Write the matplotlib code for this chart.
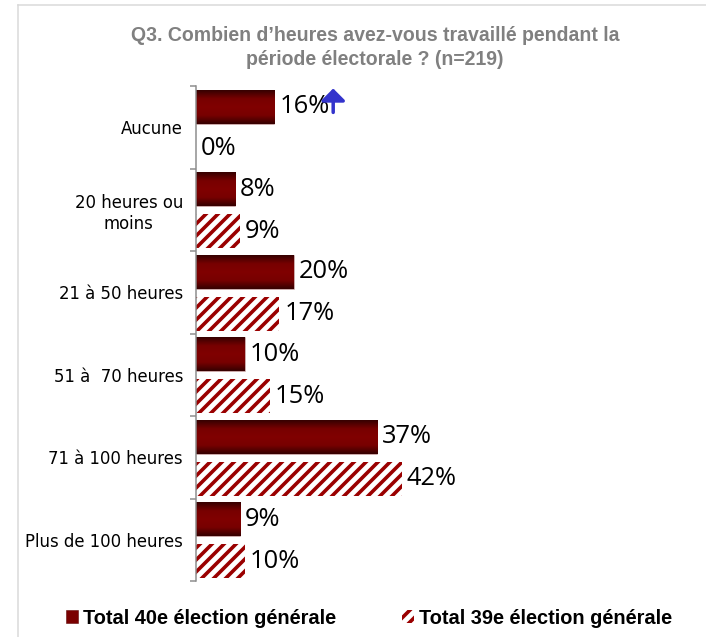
import numpy as np
import matplotlib
matplotlib.use('Agg')
import matplotlib.pyplot as plt
from matplotlib.colors import LinearSegmentedColormap
from matplotlib.patches import Patch
from matplotlib.lines import Line2D

# data
categories = ['Aucune', '20 heures ou\nmoins', '21 à 50 heures', '51 à  70 heures',
              '71 à 100 heures', 'Plus de 100 heures']
total_40e = [16, 8, 20, 10, 37, 9]
total_39e = [0, 9, 17, 15, 42, 10]
series_names = ['Total 40e élection générale', 'Total 39e élection générale']
title = "Q3. Combien d\u2019heures avez-vous travaillé pendant la\npériode électorale ? (n=219)"

W, H = 706, 637
DPI = 72
plt.rcParams['hatch.linewidth'] = 3.6
plt.rcParams['hatch.color'] = '#9a0000'

fig = plt.figure(figsize=(W / DPI, H / DPI), dpi=DPI)
ax = fig.add_axes([196 / W, (H - 581) / H, 490 / W, (581 - 86) / H])

n = len(categories)
idx = np.arange(n)
bh = 0.41
y40 = idx + 0.25
y39 = idx + 0.76

bars40 = ax.barh(y40, total_40e, height=bh, color='#7a0000', edgecolor='#d8c8c8', lw=0.6, zorder=2)
bars39 = ax.barh(y39, total_39e, height=bh, color='white', edgecolor='#9a0000', lw=0,
                 hatch='//', zorder=2)

# vertical gradient on the solid bars
grad = LinearSegmentedColormap.from_list('g', ['#360000', '#780000', '#800000', '#780000', '#360000'])
gvals = np.linspace(0, 1, 64).reshape(-1, 1)
for b in bars40:
    x0, y0, w, h = b.get_x(), b.get_y(), b.get_width(), b.get_height()
    ax.imshow(gvals, cmap=grad, aspect='auto', extent=[x0, x0 + w, y0 + h, y0],
              interpolation='bilinear', zorder=2.5)

ax.set_xlim(0, 100)
ax.set_ylim(n, 0)

# value labels
for bars, vals in [(bars40, total_40e), (bars39, total_39e)]:
    for b, v in zip(bars, vals):
        ax.annotate('%d%%' % v, (v, b.get_y() + b.get_height() / 2), xytext=(5, 0),
                    textcoords='offset pixels', va='center', ha='left',
                    family='Open Sans', fontsize=25.5, color='black', zorder=4)

# blue arrow next to 16%
ax.annotate('', xy=(28, 0.03), xytext=(28, 0.32),
            arrowprops=dict(arrowstyle='-|>,head_width=0.5,head_length=0.5', color='#3333cc',
                            lw=3.5, mutation_scale=20, shrinkA=0, shrinkB=0), zorder=5)

# axes styling
for s in ['top', 'right', 'bottom']:
    ax.spines[s].set_visible(False)
ax.spines['left'].set_color('#8c8c8c')
ax.spines['left'].set_linewidth(1.5)
ax.set_xticks([])
ax.set_yticks(np.arange(n + 1))
ax.set_yticklabels([])
ax.tick_params(axis='y', which='major', direction='out', length=6, width=1.5, color='#8c8c8c')
ax.set_yticks(idx + 0.5, minor=True)
ax.set_yticklabels(categories, minor=True, family='DejaVu Sans', fontsize=16.5)
ax.tick_params(axis='y', which='minor', length=0, pad=13)
for t in ax.get_yticklabels(minor=True):
    t.set_multialignment('center')
    t.set_linespacing(1.25)

# title
fig.text(375 / W, 1 - 47.5 / H, title, ha='center', va='center', color='#808080',
         fontsize=19.5, fontweight='bold', family='Liberation Sans', linespacing=1.32)

# legend
handles = [Patch(facecolor='#7a0000', edgecolor='#5a0000', lw=0.5),
           Patch(facecolor='white', edgecolor='#9a0000', lw=0, hatch='//')]
fig.legend(handles, series_names, loc='center', bbox_to_anchor=(369 / W, 1 - 618 / H), ncol=2,
           frameon=False, handlelength=0.6, handleheight=0.6, handletextpad=0.25,
           columnspacing=3.3, prop={'family': 'Liberation Sans', 'weight': 'bold', 'size': 20})

# light frame
fig.add_artist(Line2D([18 / W, 1], [1 - 5 / H, 1 - 5 / H], color='#d9d9d9', lw=1.5))
fig.add_artist(Line2D([18 / W, 18 / W], [0, 1 - 5 / H], color='#d9d9d9', lw=1.5))

fig.savefig('out.png', dpi=DPI)
